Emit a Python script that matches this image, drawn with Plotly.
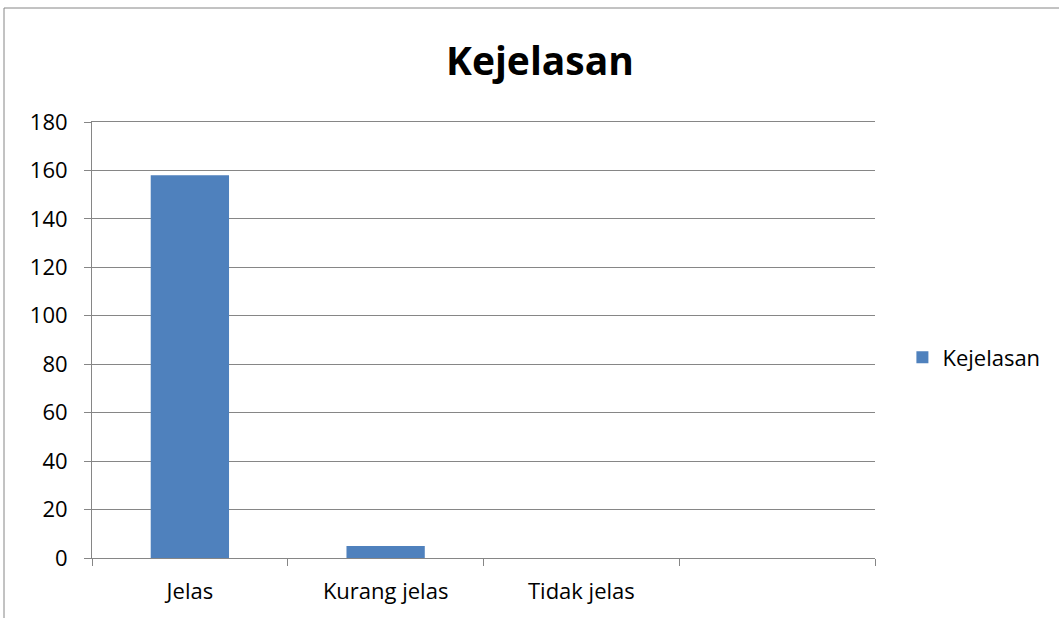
import plotly.graph_objects as go

categories = ["Jelas", "Kurang jelas", "Tidak jelas", " "]
values = [158, 5, 0, None]
series_name = "Kejelasan"
y_ticks = [0, 20, 40, 60, 80, 100, 120, 140, 160, 180]

FONT = "Open Sans"
GRID = "#868686"

fig = go.Figure()
fig.add_trace(go.Bar(
    x=categories, y=values, name=series_name,
    marker=dict(color="#4F81BD", line=dict(width=0)),
    width=0.4, showlegend=True,
))

fig.update_layout(
    width=1059, height=618,
    margin=dict(l=92, r=184, t=122, b=60),
    paper_bgcolor="white", plot_bgcolor="white",
    font=dict(family=FONT, size=22, color="#000000"),
    title=dict(text="<b>Kejelasan</b>", x=540 / 1059, xanchor="center",
               y=1 - 61 / 618, yanchor="middle",
               font=dict(family=FONT, size=39, color="#000000")),
    showlegend=True,
    legend=dict(x=1.035, xanchor="left", y=0.46, yanchor="middle",
                font=dict(family=FONT, size=22), bgcolor="rgba(0,0,0,0)"),
    xaxis=dict(type="category", categoryorder="array", categoryarray=categories,
               range=[-0.5, 3.5], showline=True, linecolor=GRID, linewidth=1,
               mirror=True,
               ticks="outside", tickson="boundaries", ticklen=7, tickcolor=GRID,
               showgrid=False, zeroline=False, fixedrange=True,
               ticklabelstandoff=14),
    yaxis=dict(range=[0, 180], tickvals=y_ticks, showline=True, linecolor=GRID,
               linewidth=1, ticks="outside", ticklen=7, tickcolor=GRID,
               showgrid=True, gridcolor=GRID, gridwidth=1, zeroline=False,
               ticklabelstandoff=12),
    shapes=[dict(type="rect", xref="paper", yref="paper",
                 x0=-88 / 783, x1=1.5, y0=-1.0, y1=1 + 114 / 436,
                 line=dict(color="#868686", width=1), fillcolor="rgba(0,0,0,0)",
                 layer="below")],
)

fig.write_html("out.html")
